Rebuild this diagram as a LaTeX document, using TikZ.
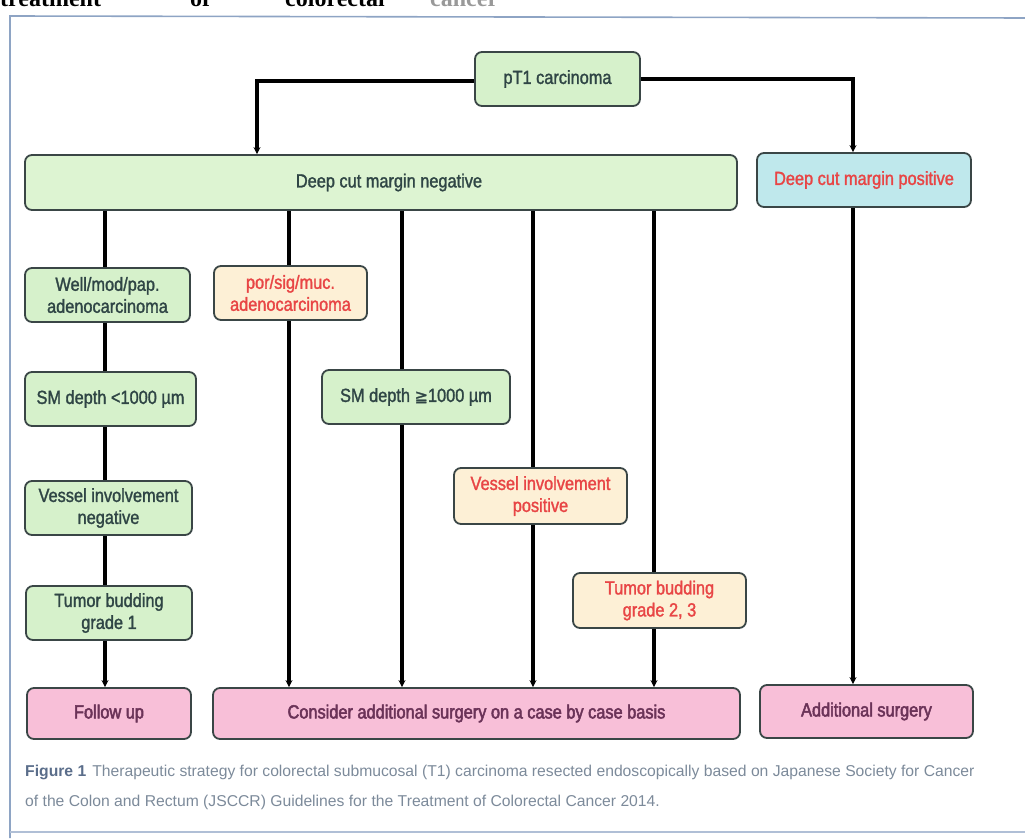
\documentclass[tikz,border=0pt]{standalone}
\usepackage{fontspec}
\setmainfont{Liberation Sans}
\newfontfamily\bx{Liberation Sans}[FakeStretch=0.86,FakeBold=1.5]
\newfontfamily\bxb{Liberation Sans}[FakeStretch=0.86,FakeBold=2.5]
\newfontfamily\symf{DejaVu Sans}[FakeBold=1.5]
\newfontfamily\headf{Liberation Serif}
\usetikzlibrary{arrows.meta}
\definecolor{frameblue}{HTML}{8EA4C4}
\definecolor{boxline}{HTML}{3A4646}
\definecolor{gfill}{HTML}{D6F1CB}
\definecolor{gfill2}{HTML}{DDF4D2}
\definecolor{bfill}{HTML}{BFE8EC}
\definecolor{ofill}{HTML}{FDF0D6}
\definecolor{pfill}{HTML}{F8BFD8}
\definecolor{gtext}{HTML}{2F4545}
\definecolor{rtext}{HTML}{E84545}
\definecolor{ptext}{HTML}{6B3358}
\definecolor{captext}{HTML}{7C8A9A}
\definecolor{capbold}{HTML}{5A6D8A}
\pgfdeclarelayer{bg}
\pgfsetlayers{bg,main}
\tikzset{
  box/.style={draw=boxline, line width=1.8pt, rounded corners=7pt, inner sep=2pt, align=center,
    font=\bx\fontsize{19}{22}\selectfont},
  gbox/.style={box, fill=gfill, text=gtext},
  obox/.style={box, fill=ofill, text=rtext},
  bbox/.style={box, fill=bfill, text=rtext},
  pbox/.style={box, fill=pfill, text=ptext, font=\bxb\fontsize{19}{22}\selectfont},
  conn/.style={line width=3.6pt, black, -{Stealth[length=7pt,width=7pt]}},
  captxt/.style={anchor=base west, inner sep=0pt, text=captext, font=\fontsize{15.7}{18}\selectfont},
  headtxt/.style={anchor=base west, inner sep=0pt, font=\headf\bfseries\fontsize{24}{26}\selectfont}
}
\begin{document}
\begin{tikzpicture}[x=1pt,y=-1pt]
\useasboundingbox (0,0) rectangle (1025,838);
% cut-off heading at the top
\node[headtxt] (h1) at (0,6) {treatment};
\node[headtxt] (h2) at (190,6) {of};
\node[headtxt] (h3) at (285,6) {colorectal};
\node[headtxt, text=black!40] (h4) at (430,6) {cancer};
% frame
\draw[frameblue, line width=1.6pt] (10,838) -- (10,16) -- (1030,18);
\draw[frameblue!70, line width=1.2pt] (10,832) -- (1030,832);

% nodes
\node[gbox, minimum width=165pt, minimum height=54pt] (pt1) at (557.5,79) {pT1 carcinoma};
\node[box, fill=gfill2, text=gtext, minimum width=712pt, minimum height=55pt] (neg) at (381,182.5) {\hspace*{16pt}Deep cut margin negative};
\node[bbox, minimum width=214pt, minimum height=54pt] (pos) at (864,180) {Deep cut margin positive};
\node[gbox, minimum width=165pt, minimum height=54pt] (well) at (107.5,295) {Well/mod/pap.\\adenocarcinoma};
\node[obox, minimum width=153pt, minimum height=54pt] (por) at (290.5,293) {por/sig/muc.\\adenocarcinoma};
\node[gbox, minimum width=171pt, minimum height=54pt] (smlt) at (110.5,399) {SM depth <1000 \textmu m};
\node[gbox, minimum width=188pt, minimum height=54pt] (smge) at (416,397) {SM depth {\symf\fontsize{16}{20}\selectfont ≧}1000 \textmu m};
\node[gbox, minimum width=167pt, minimum height=54pt] (vneg) at (108.5,508) {Vessel involvement\\negative};
\node[gbox, minimum width=166pt, minimum height=54pt] (tb1) at (109,613) {Tumor budding\\grade 1};
\node[obox, minimum width=173pt, minimum height=56pt] (vpos) at (540.5,496) {Vessel involvement\\positive};
\node[obox, minimum width=173pt, minimum height=55pt] (tb23) at (659.5,600.5) {Tumor budding\\grade 2, 3};
\node[pbox, minimum width=164pt, minimum height=51pt] (follow) at (109,713.5) {Follow up};
\node[pbox, minimum width=527pt, minimum height=51pt] (consider) at (476.5,713.5) {Consider additional surgery on a case by case basis};
\node[pbox, minimum width=213pt, minimum height=53pt] (addsurg) at (866.5,711.5) {Additional surgery};

% column coordinates
\coordinate (cL) at (257,81);
\coordinate (cR) at (853,79);
\coordinate (c1) at (105,0);
\coordinate (c2) at (289,0);
\coordinate (c3) at (402,0);
\coordinate (c4) at (533,0);
\coordinate (c5) at (654,0);
\coordinate (c6) at (853,0);

\begin{pgfonlayer}{bg}
\draw[conn] (pt1.west |- cL) -| (neg.north -| cL);
\draw[conn] (pt1.east |- cR) -| (pos.north -| cR);
\draw[conn] (neg.south -| c1) -- (follow.north -| c1);
\draw[conn] (neg.south -| c2) -- (consider.north -| c2);
\draw[conn] (neg.south -| c3) -- (consider.north -| c3);
\draw[conn] (neg.south -| c4) -- (consider.north -| c4);
\draw[conn] (neg.south -| c5) -- (consider.north -| c5);
\draw[conn] (pos.south -| c6) -- (addsurg.north -| c6);
\end{pgfonlayer}

% caption
\node[captxt] (cap1) at (25,776) {{\color{capbold}\bfseries Figure 1}\hspace{6pt}Therapeutic strategy for colorectal submucosal (T1) carcinoma resected endoscopically based on Japanese Society for Cancer};
\node[captxt] (cap2) at (25,806) {of the Colon and Rectum (JSCCR) Guidelines for the Treatment of Colorectal Cancer 2014.};
\end{tikzpicture}
\end{document}
